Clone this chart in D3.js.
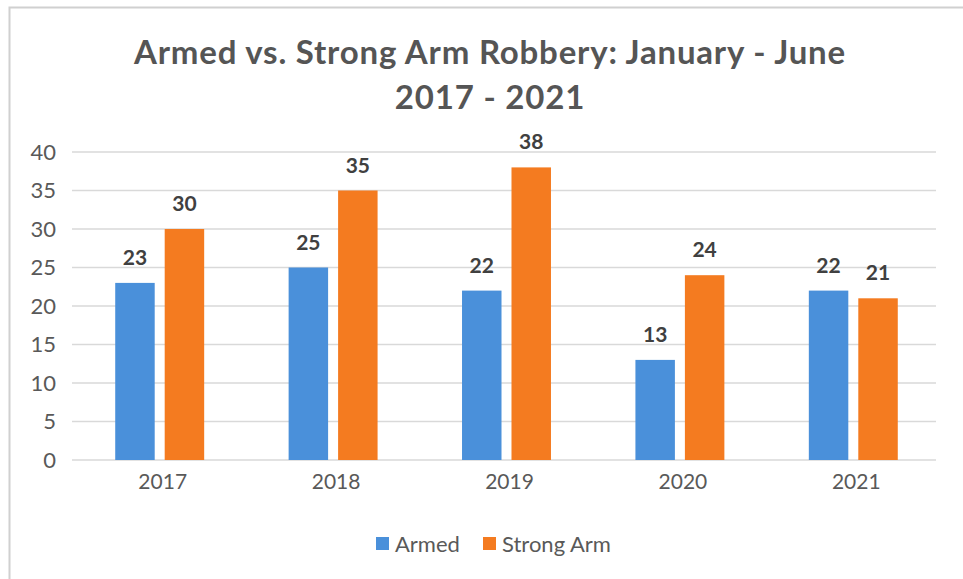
<!DOCTYPE html>
<html><head><meta charset="utf-8">
<script src="https://cdn.jsdelivr.net/npm/d3@7"></script>
<style>body{margin:0;background:#fff}svg{display:block}</style>
</head><body>
<svg id="c" width="963" height="579"></svg>
<script>
const categories = ["2017","2018","2019","2020","2021"];
const seriesNames = ["Armed","Strong Arm"];
const armed = [23,25,22,13,22];
const strongArm = [30,35,38,24,21];
const yTicks = [0,5,10,15,20,25,30,35,40];
const titleLines = ["Armed vs. Strong Arm Robbery: January - June","2017 - 2021"];
const colors = ["#4A90DA","#F47B20"];

const svg = d3.select("#c");
const font = "Lato, 'Open Sans', sans-serif";
svg.append("rect").attr("x",9.5).attr("y",7.5).attr("width",960).attr("height",580)
  .attr("fill","#fff").attr("stroke","#d0d0d0").attr("stroke-width",2);

const x = d3.scaleBand().domain(categories).range([73,940]).paddingInner(0.487).paddingOuter(0.2435);
const x1 = d3.scaleBand().domain(seriesNames).range([0,x.bandwidth()]).paddingInner(0.202);
const y = d3.scaleLinear().domain([0,40]).range([460,152]);

// gridlines
svg.append("g").selectAll("line").data(yTicks).join("line")
  .attr("x1",72).attr("x2",936).attr("y1",d=>y(d)).attr("y2",d=>y(d))
  .attr("stroke","#d9d9d9").attr("stroke-width",1.5);

// y axis
const ya = svg.append("g").attr("transform","translate(60,0)")
  .call(d3.axisLeft(y).tickValues(yTicks).tickSize(0).tickPadding(4));
ya.select(".domain").remove();
ya.selectAll("text").attr("font-family",font).attr("font-size",22).attr("fill","#595959");

// x axis
const xa = svg.append("g").attr("transform","translate(3,460)")
  .call(d3.axisBottom(x).tickSize(0).tickPadding(14));
xa.select(".domain").remove();
xa.selectAll("text").attr("font-family",font).attr("font-size",21).attr("fill","#595959");

const rows = categories.map((c,i)=>({cat:c, vals:[{s:seriesNames[0],v:armed[i]},{s:seriesNames[1],v:strongArm[i]}]}));
const g = svg.append("g").selectAll("g").data(rows).join("g")
  .attr("transform",d=>`translate(${x(d.cat)},0)`);
g.selectAll("rect").data(d=>d.vals).join("rect")
  .attr("x",d=>x1(d.s)).attr("width",x1.bandwidth())
  .attr("y",d=>y(d.v)).attr("height",d=>y(0)-y(d.v))
  .attr("fill",(d,i)=>colors[i]);
g.selectAll("text").data(d=>d.vals).join("text")
  .attr("x",d=>x1(d.s)+x1.bandwidth()/2).attr("y",d=>y(d.v)-18)
  .attr("text-anchor","middle").attr("font-family",font).attr("font-weight","bold")
  .attr("font-size",21).attr("fill","#404040").text(d=>d.v);

// title
svg.append("g").selectAll("text").data(titleLines).join("text")
  .attr("x",490).attr("y",(d,i)=>64+i*45).attr("text-anchor","middle")
  .attr("font-family",font).attr("font-weight","bold").attr("font-size",33)
  .attr("letter-spacing","0.8px")
  .attr("fill","#555555").text(d=>d);

// legend
const legendX = [376,483];
const lg = svg.append("g").selectAll("g").data(seriesNames).join("g")
  .attr("transform",(d,i)=>`translate(${legendX[i]},537)`);
lg.append("rect").attr("width",13).attr("height",13).attr("fill",(d,i)=>colors[i]);
lg.append("text").attr("x",19).attr("y",15).attr("font-family",font).attr("font-size",22)
  .attr("fill","#595959").text(d=>d);
</script>
</body></html>
